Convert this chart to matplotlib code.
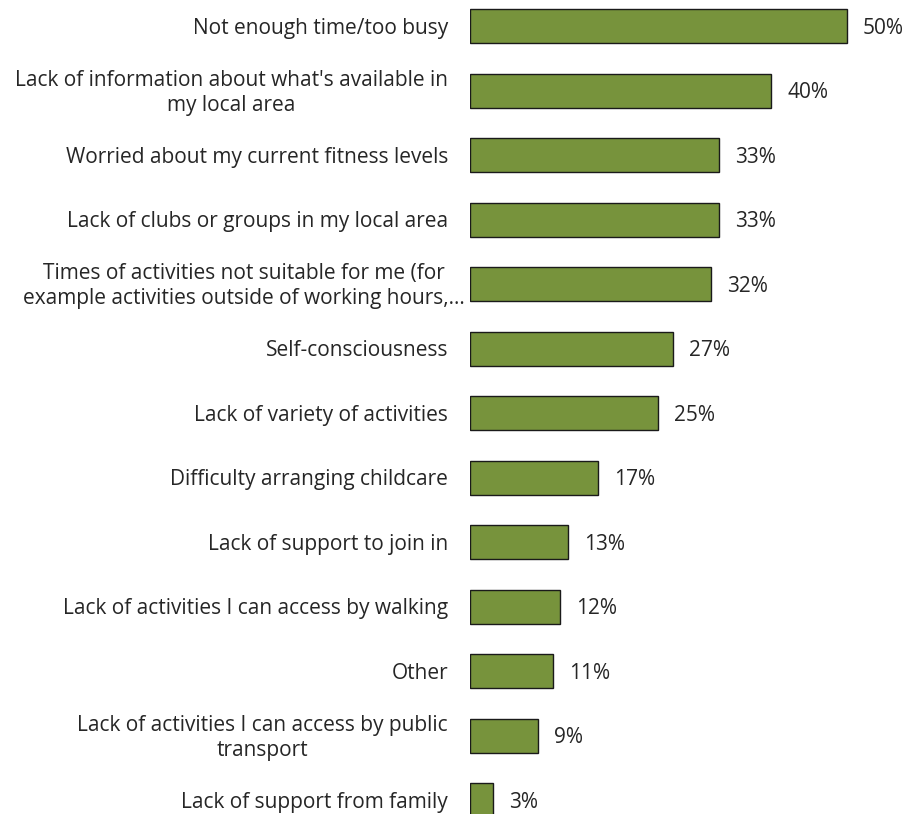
import matplotlib
matplotlib.use("Agg")
import matplotlib.pyplot as plt
from matplotlib.transforms import offset_copy

categories = [
    "Not enough time/too busy",
    "Lack of information about what's available in\nmy local area",
    "Worried about my current fitness levels",
    "Lack of clubs or groups in my local area",
    "Times of activities not suitable for me (for\nexample activities outside of working hours,...",
    "Self-consciousness",
    "Lack of variety of activities",
    "Difficulty arranging childcare",
    "Lack of support to join in",
    "Lack of activities I can access by walking",
    "Other",
    "Lack of activities I can access by public\ntransport",
    "Lack of support from family",
]
values = [50, 40, 33, 33, 32, 27, 25, 17, 13, 12, 11, 9, 3]

BAR_COLOR = "#77933C"
TEXT_COLOR = "#262626"
FONT = ["Open Sans", "DejaVu Sans"]
FS = 15

W, H, DPI = 907, 814, 100
fig = plt.figure(figsize=(W / DPI, H / DPI), dpi=DPI)
fig.patch.set_facecolor("white")

left_px = 470
px_per_unit = 7.534
row_px = 64.5
first_px = 26.3

ax = fig.add_axes([left_px / W, 0, 1 - left_px / W, 1])
ax.set_xlim(0, (W - left_px) / px_per_unit)
ax.set_ylim((H - first_px) / row_px, -first_px / row_px)

y = list(range(len(categories)))
ax.barh(y, values, height=34 / row_px, color=BAR_COLOR, edgecolor="#1a1a1a", linewidth=1.0)

# value labels to the right of each bar
for yi, v in zip(y, values):
    tr = offset_copy(ax.transData, fig=fig, x=16, y=-2, units="dots")
    ax.text(v, yi, f"{v}%", transform=tr, va="center", ha="left",
            fontsize=FS, color=TEXT_COLOR, family=FONT)

# category labels, right-aligned left of the bars
ytrans = ax.get_yaxis_transform()
for yi, label in zip(y, categories):
    gap = 5 if label.startswith("Times") else 22
    tr = offset_copy(ytrans, fig=fig, x=-gap, y=-2, units="dots")
    ax.text(0, yi, label, transform=tr, ha="right", va="center",
            multialignment="center", linespacing=1.25,
            fontsize=FS, color=TEXT_COLOR, family=FONT)

ax.set_xticks([])
ax.set_yticks([])
for s in ax.spines.values():
    s.set_visible(False)
ax.patch.set_alpha(0)

fig.savefig("out.png", dpi=DPI)
